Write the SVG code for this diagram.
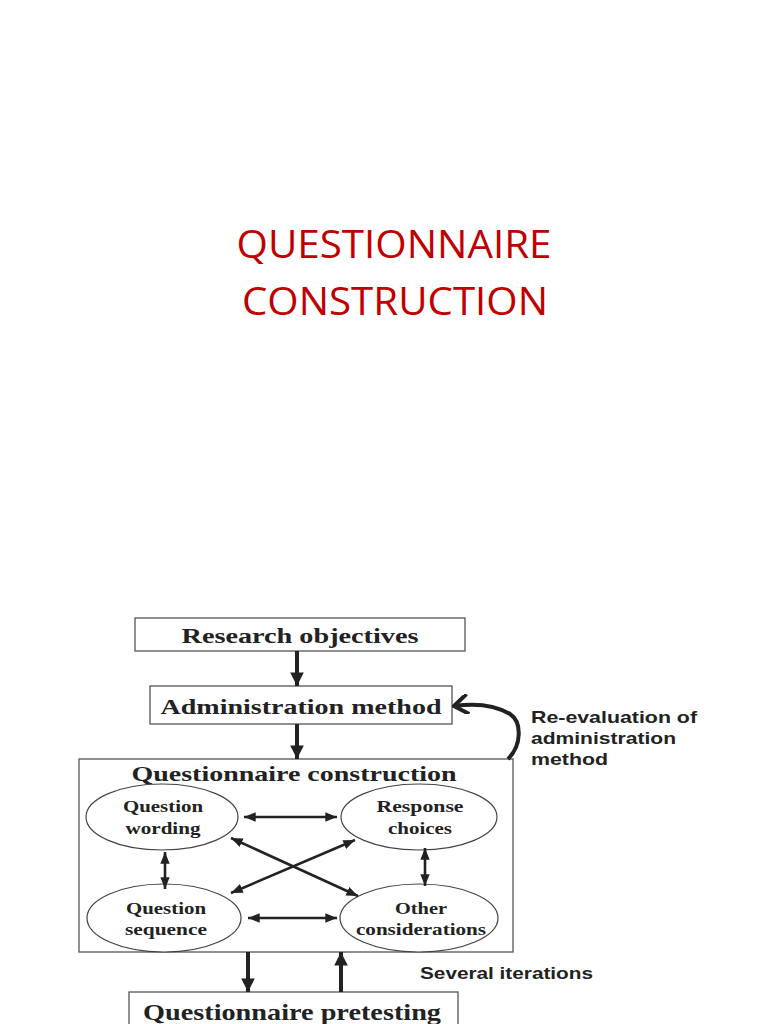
<svg xmlns="http://www.w3.org/2000/svg" width="768" height="1024" viewBox="0 0 768 1024">
<defs>
<marker id="big" viewBox="0 0 10 10" refX="10" refY="5" markerWidth="3.4" markerHeight="3.4" orient="auto"><path d="M0,0 L10,5 L0,10 z" fill="#222"/></marker>
<marker id="sm" viewBox="0 0 10 10" refX="10" refY="5" markerWidth="4.5" markerHeight="4.5" orient="auto-start-reverse"><path d="M0,1 L10,5 L0,9 z" fill="#222"/></marker>
<marker id="open" viewBox="0 0 10 10" refX="9" refY="5" markerWidth="5" markerHeight="5" orient="auto"><path d="M2,0 L9,5 L2,10" fill="none" stroke="#222" stroke-width="2"/></marker>
</defs>
<style>
.box{fill:#fff;stroke:#555;stroke-width:1.3}
.ell{fill:#fff;stroke:#444;stroke-width:1.2}
.t{font-family:"Liberation Serif",serif;font-weight:bold;fill:#222;text-anchor:middle}
.s{font-family:"Liberation Sans",sans-serif;font-weight:bold;fill:#222;font-size:17px}
.thick{stroke:#222;stroke-width:4;fill:none}
.thin{stroke:#222;stroke-width:2.6;fill:none}
.title{font-family:"Open Sans","Liberation Sans",sans-serif;font-size:38px;fill:#C00000;text-anchor:middle}
</style>
<rect width="768" height="1024" fill="#fff"/>
<text class="title" x="394" y="258" textLength="315" lengthAdjust="spacingAndGlyphs">QUESTIONNAIRE</text>
<text class="title" x="395" y="315" textLength="306" lengthAdjust="spacingAndGlyphs">CONSTRUCTION</text>
<g id="n-research"><rect class="box" x="135" y="618" width="330" height="33"/><text class="t" x="300" y="643" font-size="22" textLength="237" lengthAdjust="spacingAndGlyphs">Research objectives</text></g>
<g id="n-admin"><rect class="box" x="150" y="686" width="302" height="38"/><text class="t" x="301" y="714" font-size="22" textLength="281" lengthAdjust="spacingAndGlyphs">Administration method</text></g>
<g id="n-construction"><rect class="box" x="79" y="759" width="434" height="193"/><text class="t" x="294" y="781" font-size="22" textLength="325" lengthAdjust="spacingAndGlyphs">Questionnaire construction</text></g>
<g id="n-wording"><ellipse class="ell" cx="162" cy="817" rx="76" ry="33"/><text class="t" x="163" y="812" font-size="17" textLength="80" lengthAdjust="spacingAndGlyphs">Question</text><text class="t" x="163" y="834" font-size="17" textLength="75" lengthAdjust="spacingAndGlyphs">wording</text></g>
<g id="n-response"><ellipse class="ell" cx="419" cy="817" rx="78" ry="33"/><text class="t" x="420" y="812" font-size="17" textLength="87" lengthAdjust="spacingAndGlyphs">Response</text><text class="t" x="420" y="834" font-size="17" textLength="64" lengthAdjust="spacingAndGlyphs">choices</text></g>
<g id="n-sequence"><ellipse class="ell" cx="164" cy="918" rx="77" ry="34"/><text class="t" x="166" y="914" font-size="17" textLength="80" lengthAdjust="spacingAndGlyphs">Question</text><text class="t" x="166" y="935" font-size="17" textLength="82" lengthAdjust="spacingAndGlyphs">sequence</text></g>
<g id="n-other"><ellipse class="ell" cx="419" cy="918" rx="79" ry="34"/><text class="t" x="421" y="914" font-size="17" textLength="52" lengthAdjust="spacingAndGlyphs">Other</text><text class="t" x="421" y="935" font-size="17" textLength="130" lengthAdjust="spacingAndGlyphs">considerations</text></g>
<g id="n-pretesting"><rect class="box" x="129" y="992" width="329" height="40"/><text class="t" x="292" y="1020" font-size="23" textLength="298" lengthAdjust="spacingAndGlyphs">Questionnaire pretesting</text></g>
<text class="s" x="531" y="723" textLength="166" lengthAdjust="spacingAndGlyphs">Re-evaluation of</text>
<text class="s" x="531" y="744" textLength="145" lengthAdjust="spacingAndGlyphs">administration</text>
<text class="s" x="531" y="765" textLength="77" lengthAdjust="spacingAndGlyphs">method</text>
<text class="s" x="420" y="979" textLength="173" lengthAdjust="spacingAndGlyphs">Several iterations</text>
<g id="connectors">
<line class="thick" x1="297" y1="651" x2="297" y2="686" marker-end="url(#big)"/>
<line class="thick" x1="297" y1="724" x2="297" y2="759" marker-end="url(#big)"/>
<line class="thick" x1="248" y1="952" x2="248" y2="992" marker-end="url(#big)"/>
<line class="thick" x1="341" y1="992" x2="341" y2="952" marker-end="url(#big)"/>
<path class="thick" d="M508,759 C522,745 522,722 510,714 C495,705 475,703 454,706" marker-end="url(#open)"/>
<line class="thin" x1="244" y1="817" x2="337" y2="817" marker-start="url(#sm)" marker-end="url(#sm)"/>
<line class="thin" x1="248" y1="918" x2="337" y2="918" marker-start="url(#sm)" marker-end="url(#sm)"/>
<line class="thin" x1="165" y1="852" x2="165" y2="889" marker-start="url(#sm)" marker-end="url(#sm)"/>
<line class="thin" x1="425" y1="848" x2="425" y2="886" marker-start="url(#sm)" marker-end="url(#sm)"/>
<line class="thin" x1="231" y1="838" x2="358" y2="896" marker-start="url(#sm)" marker-end="url(#sm)"/>
<line class="thin" x1="355" y1="840" x2="231" y2="893" marker-start="url(#sm)" marker-end="url(#sm)"/>
</g>
</svg>
